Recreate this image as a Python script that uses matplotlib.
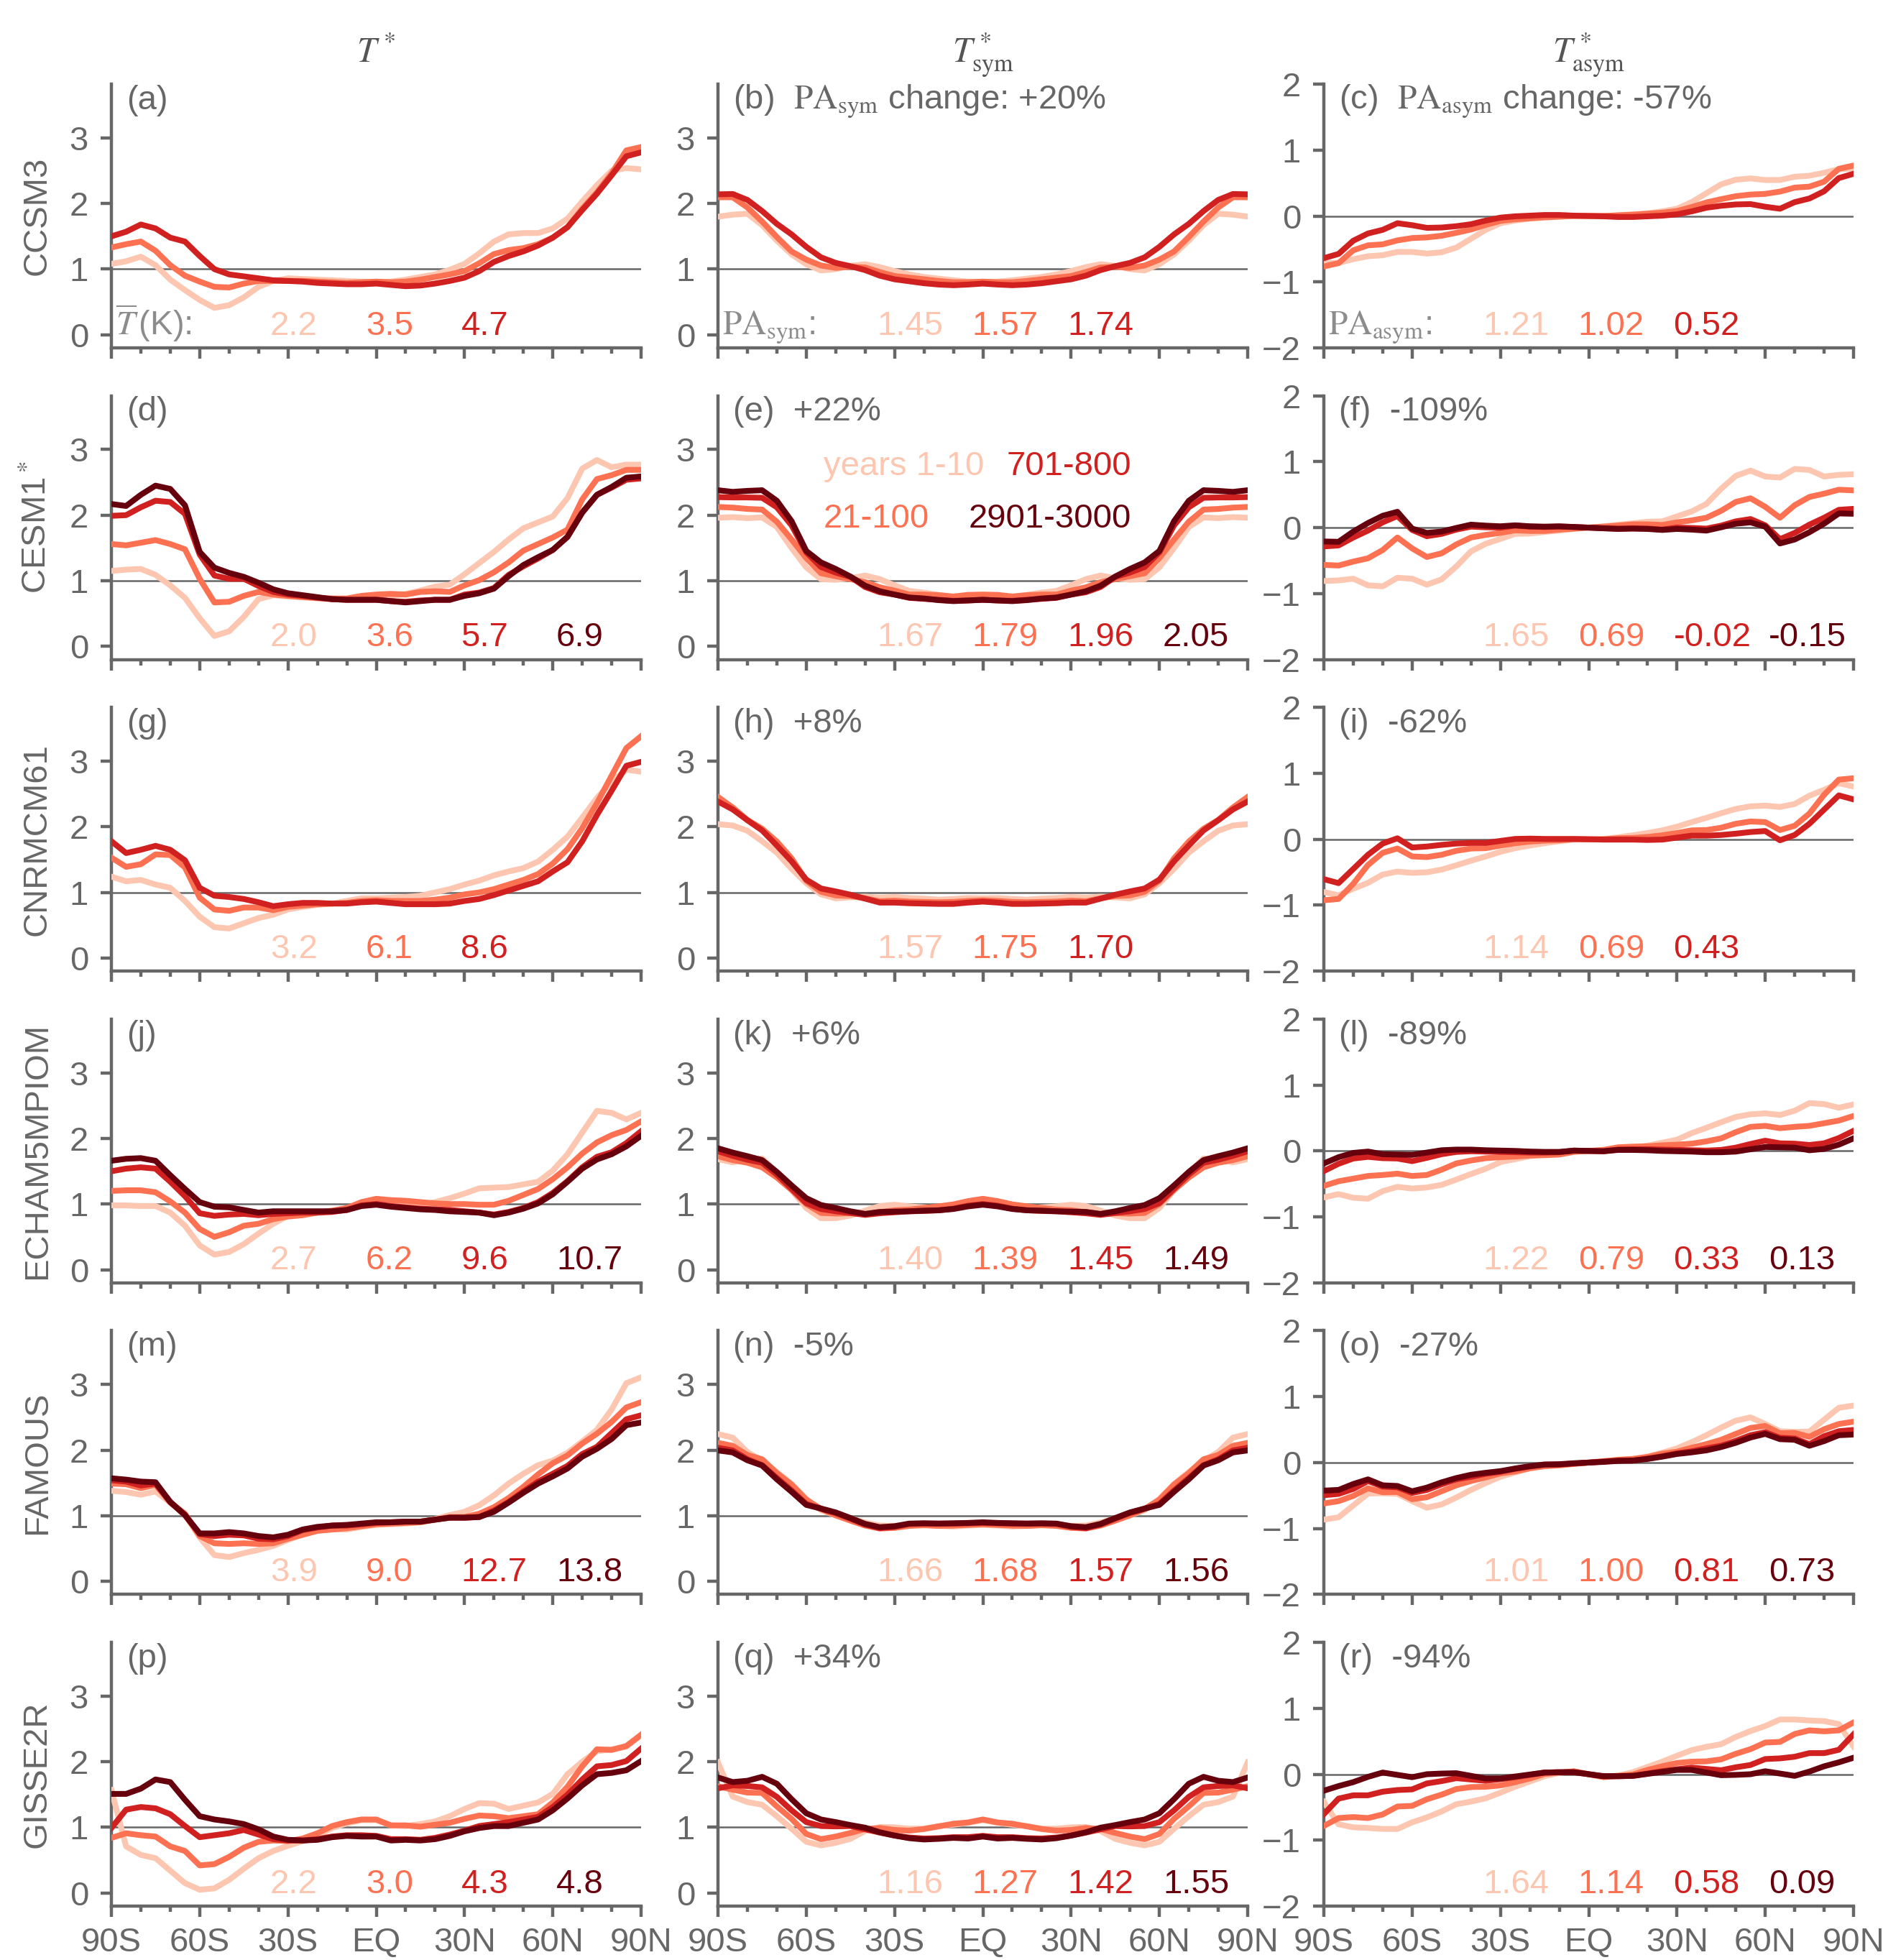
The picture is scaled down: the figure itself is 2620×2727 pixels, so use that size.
import numpy as np
import matplotlib.pyplot as plt

plt.rcParams['font.family'] = ['Liberation Sans', 'DejaVu Sans']
plt.rcParams['mathtext.fontset'] = 'stix'

#latitude grid, 5 degree spacing
lat = np.arange(-90, 91, 5)

models = ['CCSM3', 'CESM1$^*$', 'CNRMCM61', 'ECHAM5MPIOM', 'FAMOUS', 'GISSE2R']
periods = ['years 1-10', '21-100', '701-800', '2901-3000']
colors = ['#fdc6b0', '#fb7152', '#d0201f', '#67000d']

#normalised zonal-mean warming T* for each model, one list per period
ccsm3 = [
    [1.08, 1.12, 1.19, 1.06, 0.84, 0.68, 0.53, 0.41, 0.45, 0.57, 0.73, 0.82, 0.86, 0.85, 0.84, 0.83, 0.82, 0.81, 0.80,
     0.81, 0.84, 0.88, 0.92, 0.99, 1.08, 1.24, 1.42, 1.53, 1.55, 1.55, 1.62, 1.77, 2.03, 2.28, 2.50, 2.54, 2.52],
    [1.33, 1.38, 1.42, 1.28, 1.06, 0.90, 0.81, 0.73, 0.72, 0.78, 0.82, 0.82, 0.82, 0.82, 0.81, 0.80, 0.79, 0.80, 0.81,
     0.80, 0.81, 0.84, 0.88, 0.92, 0.97, 1.09, 1.23, 1.29, 1.32, 1.38, 1.48, 1.64, 1.92, 2.17, 2.46, 2.81, 2.86],
    [1.50, 1.57, 1.68, 1.62, 1.48, 1.42, 1.20, 1.00, 0.92, 0.89, 0.86, 0.83, 0.82, 0.81, 0.79, 0.78, 0.77, 0.77, 0.78,
     0.76, 0.74, 0.75, 0.78, 0.82, 0.87, 0.97, 1.11, 1.20, 1.27, 1.36, 1.48, 1.64, 1.90, 2.15, 2.43, 2.72, 2.78],
]
cesm1 = [
    [1.15, 1.17, 1.18, 1.09, 0.93, 0.74, 0.43, 0.16, 0.23, 0.45, 0.72, 0.78, 0.76, 0.75, 0.73, 0.72, 0.71, 0.73, 0.74,
     0.77, 0.80, 0.85, 0.91, 0.94, 1.10, 1.27, 1.44, 1.63, 1.80, 1.89, 1.98, 2.26, 2.71, 2.84, 2.73, 2.77, 2.77],
    [1.56, 1.54, 1.58, 1.62, 1.56, 1.48, 1.03, 0.67, 0.68, 0.77, 0.83, 0.79, 0.77, 0.75, 0.74, 0.73, 0.73, 0.77, 0.79,
     0.80, 0.79, 0.83, 0.84, 0.83, 0.93, 1.01, 1.13, 1.28, 1.46, 1.56, 1.66, 1.78, 2.24, 2.55, 2.61, 2.69, 2.69],
    [1.99, 2.00, 2.12, 2.22, 2.20, 2.02, 1.40, 1.08, 1.03, 1.03, 0.92, 0.83, 0.79, 0.77, 0.74, 0.72, 0.71, 0.71, 0.71,
     0.69, 0.68, 0.70, 0.71, 0.71, 0.79, 0.82, 0.89, 1.09, 1.22, 1.34, 1.47, 1.67, 2.04, 2.31, 2.42, 2.54, 2.56],
    [2.17, 2.14, 2.31, 2.45, 2.40, 2.15, 1.44, 1.20, 1.12, 1.06, 0.97, 0.87, 0.81, 0.78, 0.75, 0.72, 0.71, 0.71, 0.71,
     0.69, 0.67, 0.69, 0.71, 0.71, 0.77, 0.81, 0.88, 1.07, 1.24, 1.36, 1.47, 1.67, 2.04, 2.31, 2.43, 2.57, 2.59],
]
cnrmcm61 = [
    [1.24, 1.17, 1.19, 1.12, 1.07, 0.87, 0.63, 0.47, 0.45, 0.53, 0.61, 0.66, 0.74, 0.78, 0.81, 0.83, 0.87, 0.91, 0.91,
     0.92, 0.93, 0.95, 1.00, 1.05, 1.12, 1.18, 1.26, 1.32, 1.37, 1.47, 1.65, 1.85, 2.14, 2.44, 2.69, 2.87, 2.84],
    [1.53, 1.39, 1.43, 1.58, 1.57, 1.38, 0.92, 0.74, 0.72, 0.77, 0.77, 0.73, 0.78, 0.80, 0.82, 0.83, 0.84, 0.87, 0.88,
     0.87, 0.87, 0.87, 0.89, 0.92, 0.97, 1.00, 1.05, 1.12, 1.19, 1.28, 1.44, 1.66, 1.98, 2.36, 2.78, 3.20, 3.38],
    [1.78, 1.60, 1.65, 1.71, 1.65, 1.49, 1.07, 0.95, 0.93, 0.90, 0.85, 0.79, 0.82, 0.84, 0.84, 0.83, 0.83, 0.85, 0.86,
     0.84, 0.82, 0.82, 0.82, 0.83, 0.87, 0.90, 0.96, 1.03, 1.10, 1.17, 1.32, 1.46, 1.78, 2.18, 2.55, 2.93, 2.99],
]
echam5 = [
    [0.98, 0.98, 0.97, 0.97, 0.87, 0.67, 0.37, 0.23, 0.27, 0.39, 0.55, 0.70, 0.82, 0.84, 0.87, 0.89, 0.92, 0.98, 1.00,
     0.98, 0.98, 0.99, 1.03, 1.09, 1.16, 1.24, 1.25, 1.26, 1.30, 1.34, 1.51, 1.76, 2.09, 2.42, 2.39, 2.29, 2.39],
    [1.20, 1.21, 1.21, 1.18, 1.04, 0.87, 0.62, 0.50, 0.57, 0.67, 0.70, 0.77, 0.81, 0.83, 0.87, 0.90, 0.94, 1.03, 1.08,
     1.06, 1.05, 1.03, 1.01, 1.00, 1.00, 0.99, 0.99, 1.05, 1.14, 1.23, 1.38, 1.56, 1.77, 1.94, 2.05, 2.13, 2.26],
    [1.50, 1.54, 1.56, 1.54, 1.34, 1.12, 0.86, 0.82, 0.84, 0.85, 0.83, 0.85, 0.86, 0.87, 0.87, 0.88, 0.91, 0.98, 1.00,
     0.97, 0.95, 0.93, 0.92, 0.91, 0.89, 0.87, 0.84, 0.88, 0.94, 1.03, 1.17, 1.35, 1.56, 1.72, 1.79, 1.93, 2.11],
    [1.66, 1.69, 1.70, 1.66, 1.44, 1.23, 1.03, 0.96, 0.95, 0.91, 0.87, 0.89, 0.89, 0.89, 0.89, 0.89, 0.91, 0.97, 0.99,
     0.96, 0.94, 0.92, 0.91, 0.89, 0.88, 0.87, 0.83, 0.87, 0.93, 1.01, 1.15, 1.34, 1.54, 1.68, 1.76, 1.88, 2.04],
]
famous = [
    [1.38, 1.36, 1.32, 1.37, 1.20, 1.01, 0.67, 0.40, 0.37, 0.43, 0.48, 0.54, 0.63, 0.71, 0.77, 0.79, 0.79, 0.83, 0.86,
     0.87, 0.88, 0.90, 0.95, 1.01, 1.06, 1.16, 1.31, 1.49, 1.64, 1.77, 1.84, 1.96, 2.13, 2.31, 2.62, 3.02, 3.11],
    [1.49, 1.48, 1.42, 1.47, 1.20, 1.03, 0.69, 0.58, 0.57, 0.58, 0.57, 0.58, 0.65, 0.71, 0.77, 0.79, 0.81, 0.84, 0.87,
     0.88, 0.89, 0.90, 0.94, 0.98, 0.98, 1.03, 1.13, 1.27, 1.44, 1.63, 1.80, 1.92, 2.10, 2.25, 2.43, 2.65, 2.73],
    [1.54, 1.52, 1.46, 1.49, 1.21, 1.01, 0.72, 0.69, 0.71, 0.70, 0.65, 0.64, 0.69, 0.78, 0.82, 0.85, 0.85, 0.87, 0.89,
     0.90, 0.91, 0.91, 0.94, 0.97, 0.97, 0.98, 1.08, 1.21, 1.37, 1.52, 1.64, 1.76, 1.94, 2.05, 2.26, 2.47, 2.53],
    [1.57, 1.55, 1.52, 1.51, 1.21, 1.01, 0.73, 0.73, 0.75, 0.73, 0.69, 0.67, 0.71, 0.79, 0.83, 0.85, 0.86, 0.88, 0.90,
     0.90, 0.91, 0.91, 0.94, 0.97, 0.97, 0.98, 1.06, 1.20, 1.35, 1.49, 1.60, 1.72, 1.90, 2.02, 2.17, 2.38, 2.42],
]
gisse2r = [
    [1.57, 0.71, 0.58, 0.53, 0.34, 0.15, 0.05, 0.07, 0.20, 0.37, 0.53, 0.64, 0.72, 0.79, 0.87, 0.99, 1.06, 1.11, 1.11,
     1.03, 1.02, 1.05, 1.09, 1.17, 1.28, 1.37, 1.36, 1.28, 1.33, 1.38, 1.51, 1.81, 2.00, 2.16, 2.19, 2.23, 2.41],
    [0.84, 0.91, 0.88, 0.86, 0.71, 0.64, 0.42, 0.44, 0.55, 0.69, 0.78, 0.80, 0.79, 0.83, 0.91, 1.02, 1.08, 1.12, 1.12,
     1.03, 1.03, 1.01, 1.04, 1.07, 1.13, 1.18, 1.17, 1.14, 1.17, 1.20, 1.38, 1.62, 1.93, 2.19, 2.18, 2.24, 2.41],
    [0.99, 1.27, 1.31, 1.29, 1.20, 1.02, 0.85, 0.88, 0.91, 0.96, 0.89, 0.82, 0.80, 0.80, 0.82, 0.86, 0.88, 0.88, 0.87,
     0.82, 0.82, 0.81, 0.84, 0.89, 0.95, 1.02, 1.05, 1.08, 1.12, 1.16, 1.31, 1.50, 1.73, 1.93, 1.95, 2.01, 2.20],
    [1.51, 1.51, 1.59, 1.73, 1.69, 1.42, 1.17, 1.12, 1.09, 1.05, 0.97, 0.86, 0.81, 0.80, 0.81, 0.85, 0.87, 0.86, 0.86,
     0.80, 0.81, 0.80, 0.82, 0.87, 0.94, 0.99, 1.02, 1.02, 1.07, 1.12, 1.26, 1.44, 1.64, 1.81, 1.83, 1.87, 2.01],
]
tstar = [ccsm3, cesm1, cnrmcm61, echam5, famous, gisse2r]

#global mean warming (K) and polar amplification numbers per period
tbar = [[2.2, 3.5, 4.7], [2.0, 3.6, 5.7, 6.9], [3.2, 6.1, 8.6],
        [2.7, 6.2, 9.6, 10.7], [3.9, 9.0, 12.7, 13.8], [2.2, 3.0, 4.3, 4.8]]
pa_sym = [[1.45, 1.57, 1.74], [1.67, 1.79, 1.96, 2.05], [1.57, 1.75, 1.70],
          [1.40, 1.39, 1.45, 1.49], [1.66, 1.68, 1.57, 1.56], [1.16, 1.27, 1.42, 1.55]]
pa_asym = [[1.21, 1.02, 0.52], [1.65, 0.69, -0.02, -0.15], [1.14, 0.69, 0.43],
           [1.22, 0.79, 0.33, 0.13], [1.01, 1.00, 0.81, 0.73], [1.64, 1.14, 0.58, 0.09]]
sym_change = [20, 22, 8, 6, -5, 34]
asym_change = [-57, -109, -62, -89, -27, -94]

GRAY = '#676767'
FS = 17
W, H = 2620, 2727
col_left = [155, 999, 1842]
ax_w = 737
ax_h = 367
letters = 'abcdefghijklmnopqr'

fig = plt.figure(figsize=(W / 200, H / 200), dpi=200)

for r in range(6):
    T = np.array(tstar[r])
    #split into parts symmetric and antisymmetric about the equator
    sym = 0.5 * (T + T[:, ::-1])
    asym = 0.5 * (T - T[:, ::-1])
    fields = [T, sym, asym]
    numbers = [['%.1f' % v for v in tbar[r]],
               ['%.2f' % v for v in pa_sym[r]],
               ['%.2f' % v for v in pa_asym[r]]]
    bottom = 484 + 433.6 * r
    for c in range(3):
        ax = fig.add_axes([col_left[c] / W, 1 - bottom / H, ax_w / W, ax_h / H])
        for k, series in enumerate(fields[c]):
            ax.plot(lat, series, color=colors[k], lw=2.9, zorder=3)
        if c < 2:
            ax.axhline(1, color=GRAY, lw=0.9, zorder=1)
            ax.set_ylim(-0.2, 3.82)
            ax.set_yticks([0, 1, 2, 3])
        else:
            ax.axhline(0, color=GRAY, lw=0.9, zorder=1)
            ax.set_ylim(-2, 2)
            ax.set_yticks([-2, -1, 0, 1, 2])
        ax.set_xlim(-90, 90)
        ax.set_xticks(range(-90, 91, 30))
        ax.set_xticks(range(-90, 91, 10), minor=True)
        if r == 5:
            ax.set_xticklabels(['90S', '60S', '30S', 'EQ', '30N', '60N', '90N'])
        else:
            ax.set_xticklabels([])
        for side in ['top', 'right']:
            ax.spines[side].set_visible(False)
        for side in ['left', 'bottom']:
            ax.spines[side].set_color(GRAY)
            ax.spines[side].set_linewidth(1.6)
        ax.tick_params(which='major', direction='out', length=5.5, width=1.6, color=GRAY,
                       labelcolor=GRAY, labelsize=FS)
        ax.tick_params(axis='y', pad=6)
        ax.tick_params(axis='x', pad=5)
        ax.tick_params(which='minor', direction='out', length=3, width=1.6, color=GRAY)

        #panel label and change of polar amplification
        letter = '(%s)' % letters[3 * r + c]
        if c == 0:
            label = letter
        elif r == 0:
            name = 'sym' if c == 1 else 'asym'
            change = sym_change[r] if c == 1 else asym_change[r]
            label = letter + '  $\\mathrm{PA}_{\\mathrm{%s}}$ change: %+d%%' % (name, change)
        else:
            change = sym_change[r] if c == 1 else asym_change[r]
            label = letter + '  %+d%%' % change
        ax.text(0.028, 0.905, label, transform=ax.transAxes, ha='left', va='baseline',
                fontsize=FS, color=GRAY)

        for k, s in enumerate(numbers[c]):
            ax.text(0.30 + 0.18 * k, 0.05, s, transform=ax.transAxes, ha='left', va='baseline',
                    fontsize=FS, color=colors[k])

        if r == 0:
            prefix = ['$\\overline{T}\\,$(K):', '$\\mathrm{PA}_{\\mathrm{sym}}$:',
                      '$\\mathrm{PA}_{\\mathrm{asym}}$:'][c]
            ax.text(0.008, 0.05, prefix, transform=ax.transAxes, ha='left', va='baseline',
                    fontsize=FS, color='#8c8c8c')

        if r == 1 and c == 1:
            ax.text(0.199, 0.70, periods[0], transform=ax.transAxes, ha='left', va='baseline',
                    fontsize=FS, color=colors[0])
            ax.text(0.78, 0.70, periods[2], transform=ax.transAxes, ha='right', va='baseline',
                    fontsize=FS, color=colors[2])
            ax.text(0.199, 0.50, periods[1], transform=ax.transAxes, ha='left', va='baseline',
                    fontsize=FS, color=colors[1])
            ax.text(0.78, 0.50, periods[3], transform=ax.transAxes, ha='right', va='baseline',
                    fontsize=FS, color=colors[3])

    #model name on the left
    fig.text(52 / W, 1 - (bottom - ax_h / 2) / H, models[r], rotation=90, ha='center', va='center',
             fontsize=FS, color=GRAY)

titles = ['$T^*$', '$T^*_{\\mathrm{sym}}$', '$T^*_{\\mathrm{asym}}$']
for c in range(3):
    fig.text((col_left[c] + ax_w / 2) / W, 1 - 87 / H, titles[c], ha='center', va='baseline',
             fontsize=17.5, color='#555555')

plt.savefig('out.png', dpi=200)
